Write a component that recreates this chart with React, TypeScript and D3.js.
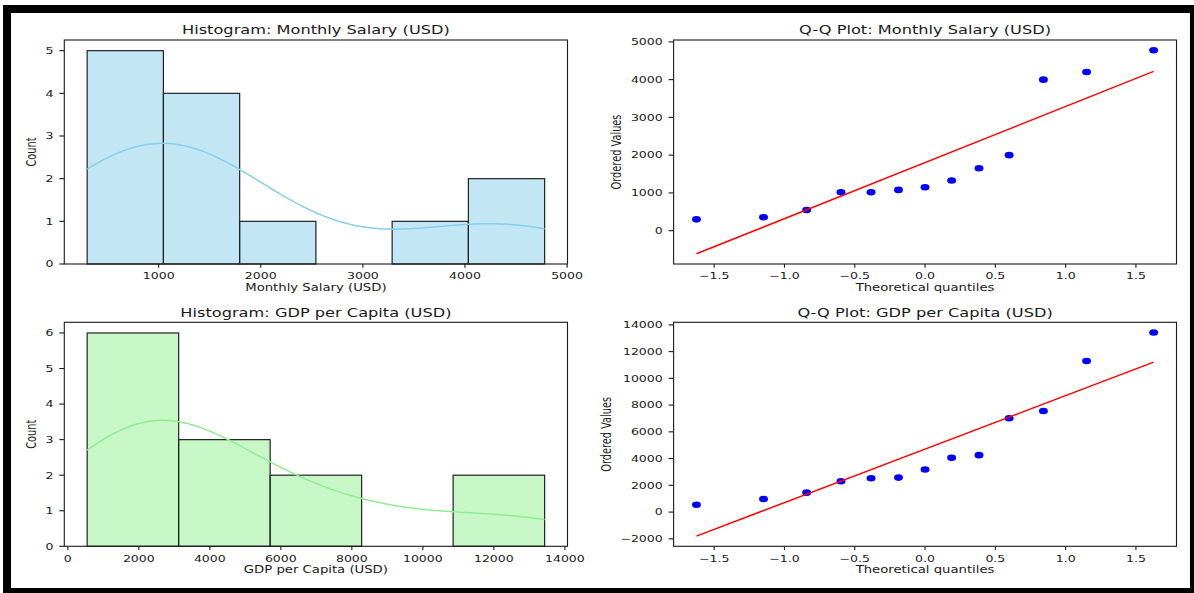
import React, { useEffect, useRef } from 'react';
import * as d3 from 'd3';

// sorted sample values
const salaryValues = [300, 354, 549, 1018, 1018, 1080, 1150, 1327, 1655, 2000, 4000, 4204, 4780];
const gdpValues = [545, 977, 1453, 2304, 2529, 2579, 3181, 4057, 4258, 7012, 7563, 11295, 13430];
const theoreticalQuantiles = [-1.626, -1.149, -0.842, -0.598, -0.384, -0.189, 0, 0.189, 0.384, 0.598, 0.842, 1.149, 1.626];

const salaryBinCount = 6;
const gdpBinCount = 5;

// tick labels
const salaryXTicks = [1000, 2000, 3000, 4000, 5000];
const salaryCountTicks = [0, 1, 2, 3, 4, 5];
const gdpXTicks = [0, 2000, 4000, 6000, 8000, 10000, 12000, 14000];
const gdpCountTicks = [0, 1, 2, 3, 4, 5, 6];
const quantileTicks = [-1.5, -1, -0.5, 0, 0.5, 1, 1.5];
const salaryQQTicks = [0, 1000, 2000, 3000, 4000, 5000];
const gdpQQTicks = [-2000, 0, 2000, 4000, 6000, 8000, 10000, 12000, 14000];

// the source picture is stretched sideways, so text and dots are too
const SX = 1.35;
const FONT = "'DejaVu Sans', sans-serif";
const INK = '#1a1a1a';

type Box = { left: number; right: number; top: number; bottom: number };

function addText(g: any, x: number, y: number, str: string, size: number, anchor = 'middle', rotate = false) {
  return g.append('text')
    .attr('transform', `translate(${x},${y}) scale(${SX},1)${rotate ? ' rotate(-90)' : ''}`)
    .attr('text-anchor', anchor)
    .style('font-family', FONT)
    .style('font-size', `${size}px`)
    .style('fill', INK)
    .text(str);
}

function drawAxes(g: any, box: Box, x: any, y: any, xTicks: number[], yTicks: number[],
  xFmt: (d: number) => string, title: string, xLabel: string, yLabel: string) {
  // spines
  g.append('rect')
    .attr('x', box.left).attr('y', box.top)
    .attr('width', box.right - box.left).attr('height', box.bottom - box.top)
    .attr('fill', 'none').attr('stroke', INK).attr('stroke-width', 1.1);

  // x ticks
  xTicks.forEach(t => {
    const px = x(t);
    g.append('line').attr('x1', px).attr('x2', px).attr('y1', box.bottom).attr('y2', box.bottom + 3.7)
      .attr('stroke', INK).attr('stroke-width', 1.1);
    addText(g, px, box.bottom + 15.3, xFmt(t), 9.3);
  });

  // y ticks
  let minLeft = box.left;
  yTicks.forEach(t => {
    const py = y(t);
    g.append('line').attr('x1', box.left - 5).attr('x2', box.left).attr('y1', py).attr('y2', py)
      .attr('stroke', INK).attr('stroke-width', 1.1);
    const txt = addText(g, box.left - 10.8, py + 9.3 * 0.36, d3.format('d')(t), 9.3, 'end');
    const w = txt.node().getComputedTextLength() * SX;
    minLeft = Math.min(minLeft, box.left - 10.8 - w);
  });

  addText(g, (box.left + box.right) / 2, box.top - 5.7, title, 12);
  addText(g, (box.left + box.right) / 2, box.bottom + 26.7, xLabel, 9.8);
  addText(g, minLeft - 9.5, (box.top + box.bottom) / 2, yLabel, 9.8, 'middle', true);
}

function drawHistogram(svg: any, box: Box, values: number[], binCount: number,
  xTicks: number[], yTicks: number[], color: string, title: string, xLabel: string) {
  const g = svg.append('g');
  const [lo, hi] = d3.extent(values) as [number, number];
  const step = (hi - lo) / binCount;
  const edges = d3.range(binCount + 1).map(i => lo + i * step);
  const counts = edges.slice(0, -1).map((e, i) =>
    values.filter(v => v >= e && (i === binCount - 1 ? v <= hi : v < e + step)).length);

  const pad = (hi - lo) * 0.05;
  const x = d3.scaleLinear().domain([lo - pad, hi + pad]).range([box.left, box.right]);
  const y = d3.scaleLinear().domain([0, (d3.max(counts) as number) * 1.05]).range([box.bottom, box.top]);

  g.selectAll('.bar')
    .data(counts)
    .join('rect')
    .attr('class', 'bar')
    .attr('x', (d: number, i: number) => x(edges[i]))
    .attr('width', (d: number, i: number) => x(edges[i + 1]) - x(edges[i]))
    .attr('y', (d: number) => y(d))
    .attr('height', (d: number) => y(0) - y(d))
    .attr('fill', color)
    .attr('fill-opacity', (d: number) => (d > 0 ? 0.5 : 0))
    .attr('stroke', (d: number) => (d > 0 ? '#222' : 'none'))
    .attr('stroke-width', 1.2);

  // gaussian KDE, Scott's bandwidth, scaled to counts, cut at data range
  const n = values.length;
  const bw = (d3.deviation(values) as number) * Math.pow(n, -1 / 5);
  const grid = d3.range(200).map(i => lo + ((hi - lo) * i) / 199);
  const kde = grid.map(xv => [
    xv,
    (d3.sum(values, v => Math.exp(-0.5 * ((xv - v) / bw) ** 2)) / (n * bw * Math.sqrt(2 * Math.PI))) * n * step,
  ]);
  g.append('path')
    .datum(kde)
    .attr('fill', 'none')
    .attr('stroke', color)
    .attr('stroke-width', 1.5)
    .attr('d', d3.line().x((d: any) => x(d[0])).y((d: any) => y(d[1])));

  drawAxes(g, box, x, y, xTicks, yTicks, d3.format('d'), title, xLabel, 'Count');
}

function drawQQ(svg: any, box: Box, values: number[], yTicks: number[], title: string) {
  const g = svg.append('g');
  const q = theoreticalQuantiles;
  const mx = d3.mean(q) as number;
  const my = d3.mean(values) as number;
  const slope = d3.sum(q, (d, i) => (d - mx) * (values[i] - my)) / d3.sum(q, d => (d - mx) ** 2);
  const intercept = my - slope * mx;
  const [q0, q1] = d3.extent(q) as [number, number];
  const fit = [[q0, intercept + slope * q0], [q1, intercept + slope * q1]];

  const xPad = (q1 - q0) * 0.05;
  const yLo = Math.min(d3.min(values) as number, fit[0][1]);
  const yHi = Math.max(d3.max(values) as number, fit[1][1]);
  const yPad = (yHi - yLo) * 0.05;
  const x = d3.scaleLinear().domain([q0 - xPad, q1 + xPad]).range([box.left, box.right]);
  const y = d3.scaleLinear().domain([yLo - yPad, yHi + yPad]).range([box.bottom, box.top]);

  g.selectAll('.pt')
    .data(values)
    .join('ellipse')
    .attr('class', 'pt')
    .attr('cx', (d: number, i: number) => x(q[i]))
    .attr('cy', (d: number) => y(d))
    .attr('rx', 3.3 * SX)
    .attr('ry', 3.3)
    .attr('fill', '#0000ff');

  g.append('path')
    .datum(fit)
    .attr('fill', 'none')
    .attr('stroke', '#ff0000')
    .attr('stroke-width', 1.5)
    .attr('d', d3.line().x((d: any) => x(d[0])).y((d: any) => y(d[1])));

  drawAxes(g, box, x, y, quantileTicks, yTicks, d3.format('.1f'), title, 'Theoretical quantiles', 'Ordered Values');
}

export default function App() {
  const svgRef = useRef<SVGSVGElement>(null);

  useEffect(() => {
    const svg = d3.select(svgRef.current);
    svg.selectAll('*').remove();

    // black frame around the figure
    svg.append('rect').attr('x', 3).attr('y', 5).attr('width', 1191).attr('height', 588).attr('fill', '#000');
    svg.append('rect').attr('x', 11).attr('y', 13).attr('width', 1179).attr('height', 575).attr('fill', '#fff');

    const topRow = { top: 40, bottom: 264 };
    const bottomRow = { top: 322.3, bottom: 546.3 };
    const leftCol = { left: 64.3, right: 567.5 };
    const rightCol = { left: 673.6, right: 1176.5 };

    drawHistogram(svg, { ...leftCol, ...topRow }, salaryValues, salaryBinCount,
      salaryXTicks, salaryCountTicks, '#87ceeb', 'Histogram: Monthly Salary (USD)', 'Monthly Salary (USD)');
    drawQQ(svg, { ...rightCol, ...topRow }, salaryValues, salaryQQTicks, 'Q-Q Plot: Monthly Salary (USD)');
    drawHistogram(svg, { ...leftCol, ...bottomRow }, gdpValues, gdpBinCount,
      gdpXTicks, gdpCountTicks, '#90ee90', 'Histogram: GDP per Capita (USD)', 'GDP per Capita (USD)');
    drawQQ(svg, { ...rightCol, ...bottomRow }, gdpValues, gdpQQTicks, 'Q-Q Plot: GDP per Capita (USD)');
  }, []);

  return (
    <svg ref={svgRef} width={1194} height={593}
      style={{ position: 'absolute', left: 0, top: 0, display: 'block', background: '#fff' }} />
  );
}
